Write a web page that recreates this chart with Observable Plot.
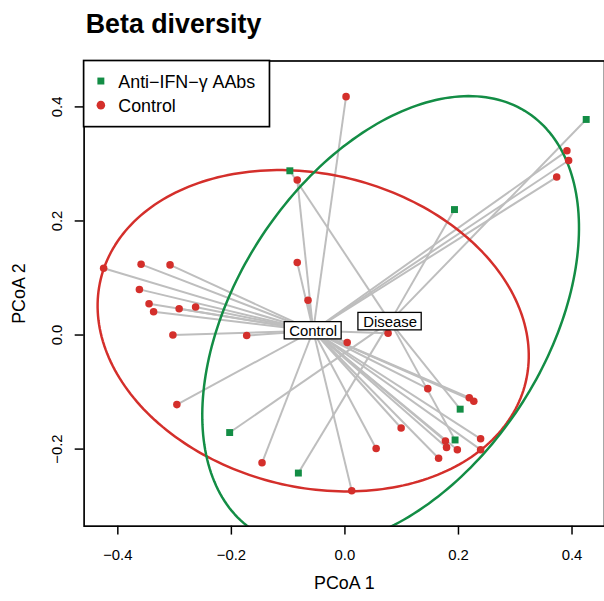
<!DOCTYPE html>
<html><head><meta charset="utf-8">
<script src="https://cdn.jsdelivr.net/npm/d3@7"></script>
<script src="https://cdn.jsdelivr.net/npm/@observablehq/plot@0.6"></script>
<style>
html,body{margin:0;padding:0;overflow:hidden;background:#fff;width:604px;height:601px}
</style>
</head><body><div id="chart"></div>
<script>
// ---- data ----
const controlX = [-0.425,-0.359,-0.308,-0.362,-0.345,-0.337,-0.292,-0.263,-0.303,-0.173,-0.296,-0.084,-0.065,0.004,0.076,0.146,0.219,0.227,0.099,0.055,0.177,0.179,0.198,0.239,0.239,0.165,0.012,0.002,0.391,0.394,0.373,-0.084,-0.146];
const controlY = [0.117,0.124,0.123,0.080,0.055,0.041,0.046,0.049,0.000,-0.001,-0.122,0.127,0.061,-0.013,0.003,-0.094,-0.110,-0.116,-0.163,-0.199,-0.186,-0.197,-0.201,-0.182,-0.201,-0.216,-0.273,0.418,0.323,0.306,0.277,0.272,-0.224];
const diseaseX = [-0.203,-0.082,0.203,0.194,0.425,0.193,-0.097];
const diseaseY = [-0.171,-0.242,-0.130,-0.184,0.378,0.220,0.288];
const centroidLabels = ["Control","Disease"];
const centroidX = [-0.0559, 0.0795];
const centroidY = [0.0075, 0.0235];
// ellipse: centre x, centre y, semi-axis a, semi-axis b, angle (deg)
const ellipseControl = [-0.0559, 0.0075, 0.385, 0.2745, -13.6];
const ellipseDisease = [0.0805, 0.0235, 0.4387, 0.2720, 56.5];
const legendLabels = ["Anti\u2212IFN\u2212\u03b3 AAbs","Control"];
const xTicks = [-0.4,-0.2,0.0,0.2,0.4];
const yTicks = [-0.2,0.0,0.2,0.4];
const title = "Beta diversity";
const xLabel = "PCoA 1", yLabel = "PCoA 2";

const RED = "#D42F2B", GREEN = "#138D45", GRAY = "#BEBEBE";
const FONT = "'Liberation Sans', Arial, Helvetica, sans-serif";

const controlPts = controlX.map((x,i)=>({x, y: controlY[i]}));
const diseasePts = diseaseX.map((x,i)=>({x, y: diseaseY[i]}));
const spider = [
  ...controlPts.map(p=>({x1:p.x,y1:p.y,x2:centroidX[0],y2:centroidY[0]})),
  ...diseasePts.map(p=>({x1:p.x,y1:p.y,x2:centroidX[1],y2:centroidY[1]}))
];
function ellipse([cx,cy,a,b,deg]) {
  const A = deg*Math.PI/180, pts = [];
  for (let k=0;k<=240;k++){ const t = 2*Math.PI*k/240;
    pts.push({x: cx + a*Math.cos(t)*Math.cos(A) - b*Math.sin(t)*Math.sin(A),
              y: cy + a*Math.cos(t)*Math.sin(A) + b*Math.sin(t)*Math.cos(A)}); }
  return pts;
}
const centroids = centroidLabels.map((l,i)=>({label:l, x:centroidX[i], y:centroidY[i]}));
const fmt = d3.format(".1f");

const svg = Plot.plot({
  width: 609, height: 601,
  marginLeft: 84.3, marginRight: 0, marginTop: 61, marginBottom: 71,
  style: {fontFamily: FONT, background: "white"},
  x: {domain: [-0.4594, 0.4572], axis: null},
  y: {domain: [-0.3351, 0.4805], axis: null},
  marks: [
    Plot.link(spider, {x1:"x1", y1:"y1", x2:"x2", y2:"y2", stroke: GRAY, strokeWidth: 2}),
    Plot.line(ellipse(ellipseControl), {x:"x", y:"y", stroke: RED, strokeWidth: 2.5, clip: true}),
    Plot.line(ellipse(ellipseDisease), {x:"x", y:"y", stroke: GREEN, strokeWidth: 2.5, clip: true}),
    Plot.dot(controlPts, {x:"x", y:"y", r: 3.8, fill: RED, symbol: "circle"}),
    Plot.dot(diseasePts, {x:"x", y:"y", r: 3.95, fill: GREEN, symbol: "square"}),
    Plot.rect([centroids[0]], {x1:"x", x2:"x", y1:"y", y2:"y", insetLeft:-28.7, insetRight:-28.7, insetTop:-8.7, insetBottom:-8.7, fill:"white", stroke:"black", strokeWidth:1.3}),
    Plot.rect([centroids[1]], {x1:"x", x2:"x", y1:"y", y2:"y", insetLeft:-31.9, insetRight:-31.9, insetTop:-8.8, insetBottom:-8.8, fill:"white", stroke:"black", strokeWidth:1.3}),
    Plot.text(centroids, {x:"x", y:"y", text:"label", fontSize: 15, fill:"black", lineAnchor:"middle", dy: 0.5}),
    Plot.frame({stroke:"black", strokeWidth: 1.7}),
    Plot.axisX(xTicks, {tickSize: 9, tickFormat: () => "", stroke: "black", strokeWidth: 1.5}),
    Plot.axisY(yTicks, {tickSize: 9, tickFormat: () => "", stroke: "black", strokeWidth: 1.5}),
    Plot.text(xTicks, {x: d=>d, text: d=>fmt(d), frameAnchor:"bottom", dy: 29.3, lineAnchor:"middle", fontSize: 15, fill:"black"}),
    Plot.text(yTicks, {y: d=>d, text: d=>fmt(d), frameAnchor:"left", dx: -26.8, rotate: -90, textAnchor:"middle", lineAnchor:"middle", fontSize: 15, fill:"black"}),
    Plot.text([xLabel], {text: d=>d, frameAnchor:"bottom", dy: 58, lineAnchor:"middle", fontSize: 18, fill:"black"}),
    Plot.text([yLabel], {text: d=>d, frameAnchor:"left", dx: -65.1, rotate: -90, textAnchor:"middle", lineAnchor:"middle", fontSize: 18, fill:"black"}),
    Plot.text([title], {text: d=>d, frameAnchor:"top-left", dx: 1.7, dy: -28, textAnchor:"start", lineAnchor:"bottom", fontSize: 27, fontWeight:"bold", fill:"black"})
  ]
});

// legend box (top-left inside the plot)
const lg = d3.select(svg).append("g").attr("font-family", FONT).attr("text-anchor", "start");
lg.append("rect").attr("x",84.3).attr("y",61).attr("width",187.4).attr("height",66.7)
  .attr("fill","white").attr("stroke","black").attr("stroke-width",1.7);
lg.append("rect").attr("x",98.2).attr("y",78.2).attr("width",7).attr("height",7).attr("fill",GREEN);
lg.append("circle").attr("cx",101.7).attr("cy",106).attr("r",4.3).attr("fill",RED);
lg.append("text").attr("x",119.3).attr("y",88.3).attr("font-size",18).attr("fill","black").attr("text-anchor","start").text(legendLabels[0]);
lg.append("text").attr("x",119.3).attr("y",112.7).attr("font-size",18).attr("fill","black").attr("text-anchor","start").text(legendLabels[1]);

document.getElementById("chart").appendChild(svg);
</script>
</body></html>
